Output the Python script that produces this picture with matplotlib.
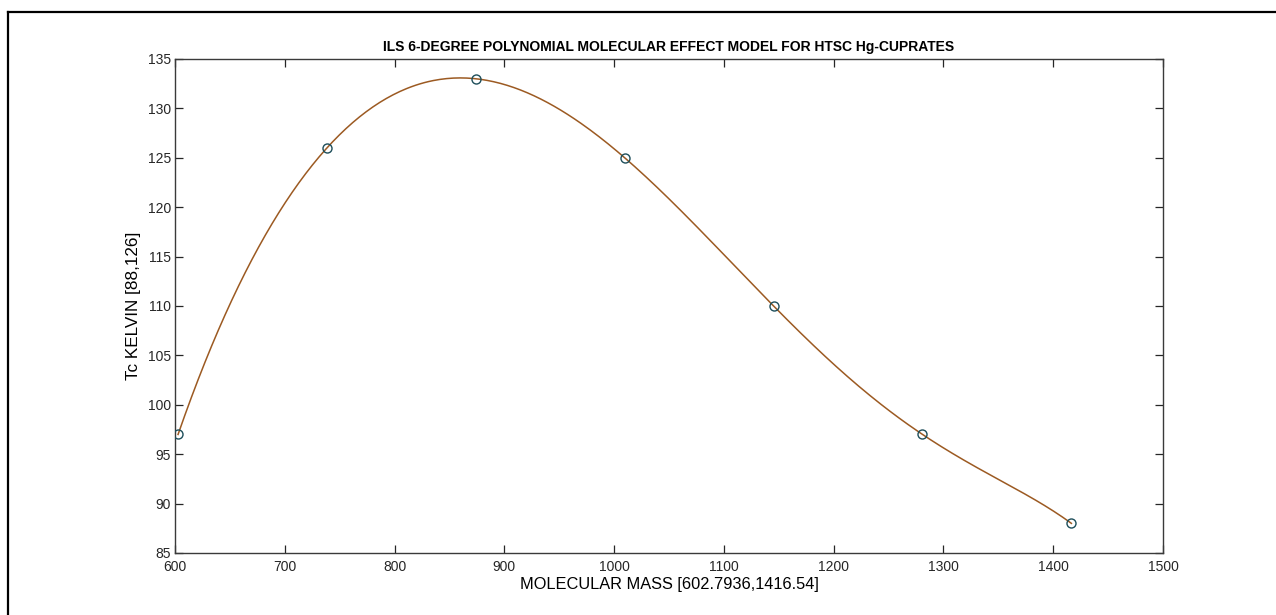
import numpy as np
import matplotlib
matplotlib.use("Agg")
import matplotlib.pyplot as plt
from matplotlib.lines import Line2D

molecular_mass = [602.7936, 738.4180, 874.0424, 1009.6668, 1145.2912, 1280.9156, 1416.54]
tc_kelvin = [97, 126, 133, 125, 110, 97, 88]
x_ticks = [600, 700, 800, 900, 1000, 1100, 1200, 1300, 1400, 1500]
y_ticks = [85, 90, 95, 100, 105, 110, 115, 120, 125, 130, 135]

plt.rcParams['font.family'] = ['Liberation Sans', 'DejaVu Sans']

fig = plt.figure(figsize=(12.76, 6.15), dpi=100)
ax = fig.add_axes([175/1276, 1-553/615, (1163-175)/1276, (553-59)/615])

# 6-degree polynomial model through the data
poly = np.polynomial.Polynomial.fit(molecular_mass, tc_kelvin, 6)
xs = np.linspace(molecular_mass[0], molecular_mass[-1], 400)
ax.plot(xs, poly(xs), color='#9c5a22', lw=1.1, zorder=2)
ax.plot(molecular_mass, tc_kelvin, 'o', ms=6.5, mfc='none', mec='#1d4e5a', mew=1.0, zorder=3)

ax.set_xlim(600, 1500)
ax.set_ylim(85, 135)
ax.set_xticks(x_ticks)
ax.set_yticks(y_ticks)
ax.tick_params(direction='in', length=6, width=0.9, top=True, right=True,
               labelsize=10, colors='#262626')
ax.tick_params(axis='x', pad=5)
ax.tick_params(axis='y', pad=3)
for sp in ax.spines.values():
    sp.set_color('#3a3a3a')
    sp.set_linewidth(1.0)

ax.set_title('ILS 6-DEGREE POLYNOMIAL MOLECULAR EFFECT MODEL FOR HTSC Hg-CUPRATES',
             fontsize=10, fontweight='bold', pad=6)
ax.set_xlabel('MOLECULAR MASS [602.7936,1416.54]', fontsize=11.8, labelpad=2)
ax.set_ylabel('Tc KELVIN [88,126]', fontsize=12.3, labelpad=5)

# page border lines
fig.add_artist(Line2D([8/1276, 1], [1-12/615, 1-12/615], color='black', lw=1.6, transform=fig.transFigure))
fig.add_artist(Line2D([8/1276, 8/1276], [0, 1-12/615], color='black', lw=1.6, transform=fig.transFigure))

fig.savefig('out.png', dpi=100, facecolor='white')
